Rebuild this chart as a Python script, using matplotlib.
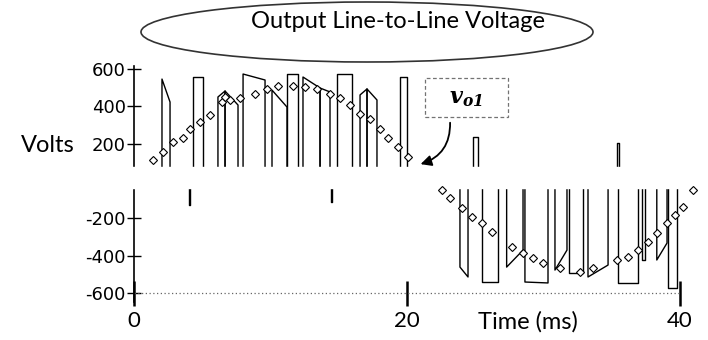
import matplotlib.pyplot as plt
from matplotlib.patches import Ellipse, Rectangle

plt.rcParams["font.family"] = ["DejaVu Sans"]
plt.rcParams["axes.unicode_minus"] = False
LABEL_FONT = ["Lato", "DejaVu Sans"]

# positive PWM pulses: start / end time (ms), level at start and at end (V)
pos_start = [2.05, 4.32, 6.15, 6.67, 7.99, 10.11, 11.21, 12.38, 13.63, 14.87, 16.56, 17.07, 19.49, 24.84, 35.38]
pos_end = [2.64, 5.05, 6.67, 7.62, 9.60, 11.21, 12.01, 13.63, 14.36, 15.97, 17.07, 17.80, 20.00, 25.20, 35.53]
pos_top_a = [546, 557, 450, 482, 573, 487, 573, 557, 498, 573, 461, 493, 557, 236, 204]
pos_top_b = [423, 557, 482, 407, 541, 396, 573, 498, 477, 573, 493, 434, 557, 236, 204]

# negative PWM pulses
neg_start = [4.03, 14.43, 23.88, 25.49, 27.30, 28.64, 30.84, 31.87, 33.26, 35.46, 37.20, 38.30, 39.10]
neg_end = [4.08, 14.48, 24.47, 26.67, 28.50, 30.33, 31.72, 32.89, 34.73, 36.92, 37.40, 39.05, 39.80]
neg_bot_a = [-129, -112, -461, -541, -461, -541, -477, -493, -514, -546, -423, -423, -573]
neg_bot_b = [-129, -112, -514, -541, -370, -546, -370, -493, -450, -546, -423, -332, -573]

pos_base = 75
neg_base = -37

# fundamental component samples (diamonds)
fund_t = [1.39, 2.12, 2.86, 3.59, 4.10, 4.84, 5.57, 6.45, 6.67, 7.03, 7.77, 8.86, 9.74,
          10.55, 11.65, 12.53, 13.41, 14.36, 15.09, 15.82, 16.56, 17.29, 18.02, 18.61, 19.34, 20.07,
          22.56, 23.15, 24.03, 24.76, 25.49, 26.23, 27.69, 28.50, 29.23, 29.96, 31.21, 32.67,
          33.63, 35.38, 36.19, 36.92, 37.66, 38.32, 39.05, 39.63, 40.22, 40.95]
fund_v = [112, 155, 209, 230, 279, 316, 354, 423, 450, 434, 445, 466, 493,
          509, 509, 504, 493, 466, 445, 407, 359, 332, 279, 230, 182, 129,
          -48, -91, -145, -193, -225, -273, -354, -386, -413, -439, -466, -487,
          -466, -423, -407, -370, -327, -279, -225, -182, -139, -48]

y_ticks = [-600, -400, -200, 200, 400, 600]
x_ticks = [0, 20, 40]

fig = plt.figure(figsize=(7.08, 3.4), dpi=100)
ax = fig.add_axes([134 / 708, 1 - 302 / 340, 573 / 708, 236 / 340])
ax.set_xlim(0, 573 / 13.65)
ax.set_ylim(-648, 616)

for t0, t1, a, b in zip(pos_start, pos_end, pos_top_a, pos_top_b):
    ax.plot([t0, t0, t1, t1], [pos_base, a, b, pos_base], color="black", lw=1.0)
for t0, t1, a, b in zip(neg_start, neg_end, neg_bot_a, neg_bot_b):
    ax.plot([t0, t0, t1, t1], [neg_base, a, b, neg_base], color="black", lw=1.0)

ax.plot(fund_t, fund_v, linestyle="none", marker="D", ms=3.6,
        mfc="white", mec="black", mew=0.8, zorder=4)

# scope bottom grid line
ax.hlines(-600, 0, 40, colors="0.4", linestyles=(0, (1, 2)), lw=0.9)

# blank band around zero (axis line is broken there too)
ax.axhspan(neg_base, pos_base, xmin=-0.01, xmax=1, color="white", zorder=3, clip_on=False)

for s in ["top", "right"]:
    ax.spines[s].set_visible(False)
ax.spines["bottom"].set_position(("data", -600))
ax.spines["bottom"].set_color("none")
ax.spines["left"].set_linewidth(1.2)

ax.set_yticks(y_ticks)
ax.tick_params(axis="y", direction="inout", length=10, width=1.0, pad=1, labelsize=13)
ax.set_xticks(x_ticks)
ax.tick_params(axis="x", direction="inout", length=18, width=1.8, pad=4)
for lab in ax.get_xticklabels():
    lab.set_family(LABEL_FONT)
    lab.set_fontsize(16)

ax.text((528 - 134) / 573, (302 - 322) / 236, "Time (ms)", transform=ax.transAxes,
        family=LABEL_FONT, fontsize=17, ha="center", va="center")
ax.set_ylabel("Volts", family=LABEL_FONT, fontsize=17, rotation=0, va="center", ha="center")
ax.yaxis.set_label_coords((48 - 134) / 573, (302 - 145) / 236)

# curve label
ax.add_patch(Rectangle((21.32, 343), 6.08, 209, fill=False, edgecolor="0.45",
                       linestyle=(0, (3, 2)), lw=0.9, zorder=4))
ax.text(24.3, 440, r"$\mathbfit{v}_{\mathbfit{o1}}$", fontsize=16, ha="center", va="center",
        math_fontfamily="dejavuserif", zorder=5)
ax.annotate("", xy=(20.8, 86), xytext=(23.15, 327),
            arrowprops=dict(arrowstyle="-|>", color="black", lw=1.3, mutation_scale=16,
                            connectionstyle="arc3,rad=-0.4"), zorder=5)

# title in an ellipse
fig.add_artist(Ellipse((367 / 708, 1 - 32 / 340), 452 / 708, 60 / 340, transform=fig.transFigure,
                       fill=False, edgecolor="0.2", lw=1.2))
fig.text(398 / 708, 1 - 21 / 340, "Output Line-to-Line Voltage", family=LABEL_FONT,
         fontsize=17, ha="center", va="center")

fig.savefig("out.png", dpi=100)
